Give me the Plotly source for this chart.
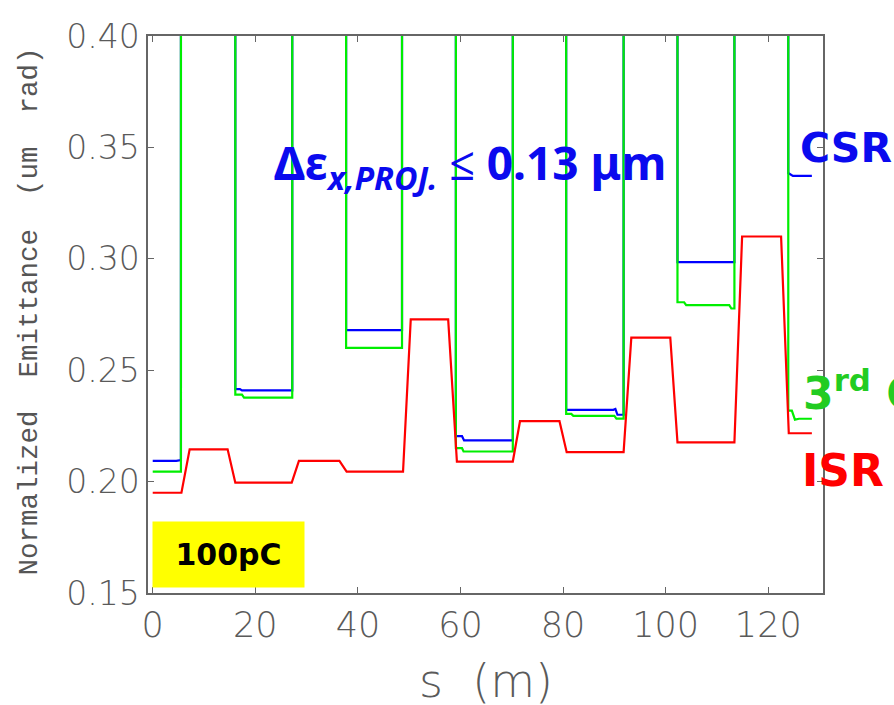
import plotly.graph_objects as go

# ---------------- data ----------------
# ISR (red)
s_isr = [0, 5.6, 7.2, 14.6, 16.1, 27.1, 28.5, 36.4, 37.8, 48.8, 50.3, 57.6, 59.3,
         70.2, 71.6, 79.3, 80.7, 91.8, 93.3, 100.9, 102.3, 113.4, 114.9, 122.5, 124.0, 128.5]
emit_isr = [0.1950, 0.1950, 0.2145, 0.2145, 0.1995, 0.1995, 0.2093, 0.2093, 0.2045, 0.2045,
            0.2728, 0.2728, 0.2090, 0.2090, 0.2271, 0.2271, 0.2132, 0.2132, 0.2646, 0.2646,
            0.2176, 0.2176, 0.3100, 0.3100, 0.2217, 0.2217]

# 3rd order (green)  -- values above 0.40 are off the plotted range
s_3rd = [0, 5.0, 5.5, 5.5, 16.1, 16.1, 17.4, 17.8, 27.2, 27.2, 37.7, 37.7, 48.6, 48.6,
         59.1, 59.1, 60.3, 60.6, 70.2, 70.2, 80.6, 80.6, 81.6, 82.0, 90.0, 90.4, 91.8, 91.8,
         102.3, 102.3, 103.6, 104.0, 112.4, 112.8, 113.4, 113.4, 123.9, 123.9, 124.6, 125.2, 126.0, 128.5]
emit_3rd = [0.2045, 0.2045, 0.2045, 0.60, 0.60, 0.2390, 0.2390, 0.2377, 0.2377, 0.60, 0.60,
            0.2600, 0.2600, 0.60, 0.60, 0.2150, 0.2150, 0.2135, 0.2135, 0.60, 0.60, 0.2304,
            0.2304, 0.2295, 0.2295, 0.2283, 0.2283, 0.60, 0.60, 0.2805, 0.2805, 0.2792, 0.2792,
            0.2777, 0.2777, 0.60, 0.60, 0.2319, 0.2319, 0.2278, 0.2282, 0.2282]

# CSR (blue)
s_csr = [0, 4.6, 5.5, 5.5, 16.1, 16.1, 17.0, 17.4, 27.2, 27.2, 37.7, 37.7, 48.6, 48.6,
         59.1, 59.1, 60.3, 60.7, 70.2, 70.2, 80.6, 80.6, 89.8, 90.2, 90.6, 91.8, 91.8,
         102.3, 102.3, 113.4, 113.4, 123.9, 123.9, 124.8, 128.5]
emit_csr = [0.2093, 0.2093, 0.2097, 0.60, 0.60, 0.2415, 0.2415, 0.2409, 0.2409, 0.60, 0.60,
            0.2680, 0.2680, 0.60, 0.60, 0.2204, 0.2204, 0.2185, 0.2185, 0.60, 0.60, 0.2322,
            0.2322, 0.2326, 0.2300, 0.2300, 0.60, 0.60, 0.2985, 0.2985, 0.60, 0.60, 0.3385,
            0.3372, 0.3372]

x_ticks = [0, 20, 40, 60, 80, 100, 120]
y_ticks = [0.15, 0.20, 0.25, 0.30, 0.35, 0.40]
y_ticklabels = ["0.15", "0.20", "0.25", "0.30", "0.35", "0.40"]

# ---------------- figure ----------------
fig = go.Figure()
fig.add_trace(go.Scatter(x=s_csr, y=emit_csr, mode="lines", name="CSR",
                         line=dict(color="#0000ff", width=2.2)))
fig.add_trace(go.Scatter(x=s_3rd, y=emit_3rd, mode="lines", name="3rd Order",
                         line=dict(color="#00ee00", width=2.2)))
fig.add_trace(go.Scatter(x=s_isr, y=emit_isr, mode="lines", name="ISR",
                         line=dict(color="#ff0000", width=2.2)))

thin = dict(family="DejaVu Sans", weight=200, color="#5a5a5a")
thin_mono = dict(family="Liberation Mono", color="#555555")
axis_common = dict(showgrid=False, zeroline=False, showline=True, linecolor="#666666",
                   linewidth=1.5, mirror="ticks", ticks="inside", ticklen=6,
                   tickcolor="#666666", tickwidth=1.2)

fig.update_layout(
    width=894, height=705,
    margin=dict(l=148, r=71, t=36, b=112),
    paper_bgcolor="white", plot_bgcolor="white",
    showlegend=False,
    xaxis=dict(range=[-0.92, 130.67], tickvals=x_ticks,
               tickfont=dict(size=35, **thin), **axis_common),
    yaxis=dict(range=[0.15, 0.40], tickvals=y_ticks, ticktext=y_ticklabels,
               tickfont=dict(size=33, **thin), **axis_common),
)

NB = "\u00a0"
annotations = [
    # axis titles
    dict(text=f"Normalized{NB}{NB}Emittance{NB}{NB}(um{NB}{NB}rad)", xref="paper", yref="paper",
         x=-0.175, y=0.505, textangle=-90, showarrow=False,
         xanchor="center", yanchor="middle", font=dict(size=27.5, **thin_mono)),
    dict(text=f"s{NB}{NB}(m)", xref="paper", yref="paper", x=0.5, y=-0.158,
         showarrow=False, xanchor="center", yanchor="middle", font=dict(size=46, **thin)),
    # main statement
    dict(text="<b>Δε<sub><i>x,PROJ.</i></sub> ≤ 0.13 μm</b>", xref="x", yref="y",
         x=23.2, y=0.342, showarrow=False, xanchor="left", yanchor="middle",
         font=dict(family="Noto Sans", size=46, color="#0a0aee")),
    # curve labels
    dict(text="<b>CSR</b>", xref="x", yref="y", x=125.7, y=0.3496, showarrow=False,
         xanchor="left", yanchor="middle",
         font=dict(family="DejaVu Sans", size=41, color="#0a0aee")),
    dict(text="<b>3<sup>rd</sup> C</b>", xref="x", yref="y", x=126.3, y=0.241, showarrow=False,
         xanchor="left", yanchor="middle",
         font=dict(family="DejaVu Sans", size=44, color="#22cc22")),
    dict(text="<b>ISR</b>", xref="x", yref="y", x=126.2, y=0.205, showarrow=False,
         xanchor="left", yanchor="middle",
         font=dict(family="DejaVu Sans", size=44, color="#ff0000")),
    # charge tag
    dict(text="<b>100pC</b>", xref="x", yref="y", x=-0.2, y=0.1524, showarrow=False,
         xanchor="left", yanchor="bottom", width=151, height=65, bgcolor="#ffff00",
         borderpad=0, font=dict(family="DejaVu Sans", size=30, color="black")),
]
fig.update_layout(annotations=annotations)

fig.write_html("out.html", config={"displayModeBar": False},
               post_script="document.body.style.margin='0';document.body.style.overflow='hidden';")
